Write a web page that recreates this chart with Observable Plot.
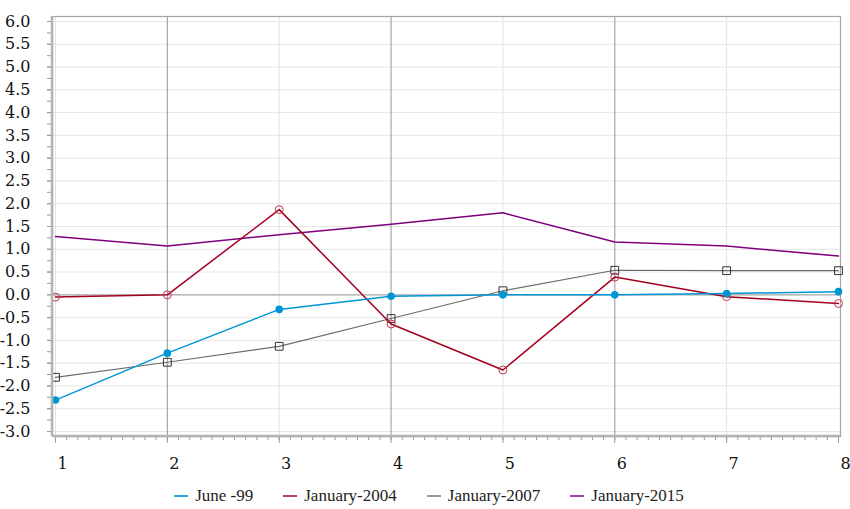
<!DOCTYPE html>
<html>
<head>
<meta charset="utf-8">
<script src="https://cdn.jsdelivr.net/npm/d3@7"></script>
<script src="https://cdn.jsdelivr.net/npm/@observablehq/plot@0.6"></script>
<style>
  body { margin: 0; background: #fff; font-family: 'Liberation Serif', 'DejaVu Serif', serif; }
  #legend { display: flex; justify-content: center; gap: 30px; margin-top: 4px; height: 24px; line-height: 20px; font-size: 17px; color: #222; padding-left: 8px; font-family: 'Liberation Serif', 'DejaVu Serif', serif; }
  #legend .item { display: flex; align-items: center; }
  #legend .sw { width: 14px; height: 2px; margin-right: 7px; }
</style>
</head>
<body>
<div id="chart"></div>
<div id="legend"></div>
<script>
const xs = [1, 2, 3, 4, 5, 6, 7, 8];
const seriesNames = ["June -99", "January-2004", "January-2007", "January-2015"];
const june99 = [-2.31, -1.28, -0.32, -0.03, 0.0, 0.0, 0.03, 0.07];
const jan2004 = [-0.05, 0.0, 1.87, -0.64, -1.65, 0.39, -0.04, -0.19];
const jan2007 = [-1.81, -1.48, -1.13, -0.52, 0.09, 0.54, 0.53, 0.53];
const jan2015 = [1.28, 1.07, 1.32, 1.55, 1.80, 1.16, 1.07, 0.85];
const colors = ["#0096d6", "#a3001e", "#6b6b6b", "#800080"];
const yTicks = d3.range(-3, 6.01, 0.5);
const xMinor = d3.range(1, 8.001, 0.1);
const yMinor = d3.range(-3, 6.01, 0.25);

const toRows = (vals, name) => xs.map((x, i) => ({x, y: vals[i], name}));
const r1 = toRows(june99, seriesNames[0]);
const r2 = toRows(jan2004, seriesNames[1]);
const r3 = toRows(jan2007, seriesNames[2]);
const r4 = toRows(jan2015, seriesNames[3]);

const W = 850, H = 480;
const chart = Plot.plot({
  width: W, height: H,
  marginLeft: 52, marginRight: 10, marginTop: 16, marginBottom: 44,
  style: {fontFamily: "DejaVu Serif", color: "#111", background: "#fff"},
  x: {domain: [1, 8], range: [55, 838], label: null},
  y: {domain: [-3, 6], range: [431, 21], label: null},
  marks: [
    Plot.ruleY(yTicks.filter(d => d !== 0), {stroke: "#e6e6e6", strokeWidth: 1}),
    Plot.ruleX([1, 3, 5, 7], {stroke: "#e3e3e3", strokeWidth: 1}),
    Plot.ruleX([2, 4, 6], {stroke: "#a6a6a6", strokeWidth: 1.2}),
    Plot.ruleY([0], {stroke: "#a6a6a6", strokeWidth: 1.2}),
    Plot.frame({stroke: "#a6a6a6", strokeWidth: 1.2}),
    Plot.axisY({ticks: yMinor, tickSize: 5, text: null, stroke: "#999", strokeWidth: 1, label: null}),
    Plot.axisY({ticks: yTicks, tickSize: 5, tickPadding: 17, tickFormat: d => d.toFixed(1), fontSize: 16, fontFamily: "DejaVu Serif", stroke: "#999", label: null}),
    Plot.axisX({ticks: xMinor, tickSize: 4, text: null, stroke: "#999", strokeWidth: 1, label: null}),
    Plot.axisX({ticks: xs, tickSize: 7, text: null, stroke: "#999", label: null}),
    Plot.axisX({ticks: xs, tickSize: 0, tickPadding: 21, dx: 7, tickFormat: d => String(d), fontSize: 16, fontFamily: "DejaVu Serif", label: null}),
    Plot.lineY(r4, {x: "x", y: "y", stroke: colors[3], strokeWidth: 1.5}),
    Plot.lineY(r3, {x: "x", y: "y", stroke: colors[2], strokeWidth: 1.2}),
    Plot.dot(r3, {x: "x", y: "y", symbol: "square", r: 4.4, stroke: "#333", strokeWidth: 1, fill: "none"}),
    Plot.lineY(r2, {x: "x", y: "y", stroke: colors[1], strokeWidth: 1.5}),
    Plot.dot(r2, {x: "x", y: "y", r: 4, stroke: "#c0394f", strokeWidth: 1, fill: "none"}),
    Plot.lineY(r1, {x: "x", y: "y", stroke: colors[0], strokeWidth: 1.5}),
    Plot.dot(r1, {x: "x", y: "y", r: 3.8, fill: colors[0], stroke: "none"})
  ]
});
document.getElementById("chart").appendChild(chart);
const svg = d3.select(chart);
svg.append("line").attr("x1", 52).attr("x2", 52).attr("y1", 16).attr("y2", 436).attr("stroke", "#b3b3b3").attr("stroke-width", 2.5);
svg.append("line").attr("x1", 52).attr("x2", 840).attr("y1", 436).attr("y2", 436).attr("stroke", "#b3b3b3").attr("stroke-width", 2.5);

const legendColors = ["#2ca9e1", "#b84050", "#999999", "#9b3fa3"];
const lg = document.getElementById("legend");
seriesNames.forEach((n, i) => {
  const it = document.createElement("div"); it.className = "item";
  const sw = document.createElement("span"); sw.className = "sw"; sw.style.background = legendColors[i];
  const t = document.createElement("span"); t.textContent = n;
  it.appendChild(sw); it.appendChild(t); lg.appendChild(it);
});
</script>
</body>
</html>
